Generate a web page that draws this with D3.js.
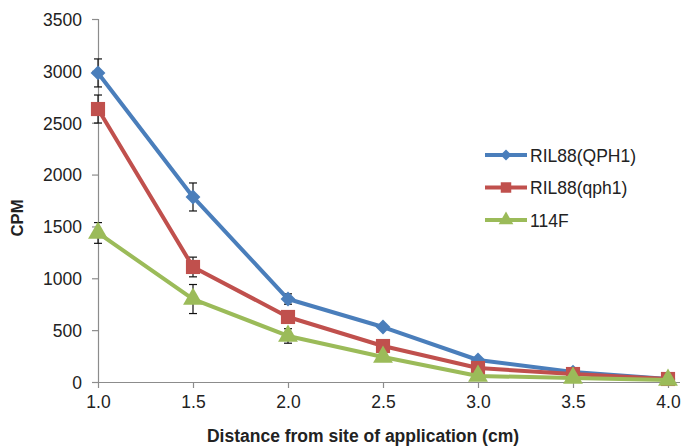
<!DOCTYPE html>
<html><head><meta charset="utf-8">
<script src="https://cdn.jsdelivr.net/npm/d3@7"></script>
<style>body{margin:0;background:#fff}svg{display:block}text{font-family:"Liberation Sans",Arial,sans-serif}</style>
</head><body>
<script>
const distances = [1.0, 1.5, 2.0, 2.5, 3.0, 3.5, 4.0];
const seriesNames = ["RIL88(QPH1)", "RIL88(qph1)", "114F"];
const valuesQPH1 = [2980, 1784, 800, 530, 212, 96, 30];
const valuesqph1 = [2632, 1109, 627, 347, 135, 77, 29];
const values114F = [1437, 800, 444, 241, 58, 39, 19];
const errorsQPH1 = [135, 135, 50, 20, 15, 10, 5];
const errorsqph1 = [135, 95, 40, 20, 15, 10, 5];
const errors114F = [100, 140, 70, 20, 15, 10, 5];
const yTicks = [0, 500, 1000, 1500, 2000, 2500, 3000, 3500];
const xTicks = [1.0, 1.5, 2.0, 2.5, 3.0, 3.5, 4.0];
const colors = ["#4A7EBB", "#C0504D", "#9BBB59"];
const shapes = [d3.symbolSquare, d3.symbolSquare, d3.symbolTriangle];
const rotations = [45, 0, 0];

const W = 682, H = 448;
const svg = d3.select("body").append("svg").attr("width", W).attr("height", H);
const x = d3.scaleLinear().domain([1, 4]).range([98, 668]);
const y = d3.scaleLinear().domain([0, 3500]).range([382, 19]);

const yAxis = svg.append("g").attr("transform", "translate(98,0)")
  .call(d3.axisLeft(y).tickValues(yTicks).tickSize(6).tickPadding(10).tickFormat(d3.format("d")));
const xAxis = svg.append("g").attr("transform", "translate(0,382)")
  .call(d3.axisBottom(x).tickValues(xTicks).tickSize(6).tickPadding(8).tickFormat(d3.format(".1f")));
[yAxis, xAxis].forEach(g => {
  g.selectAll("path,line").attr("stroke", "#8c8c8c").attr("stroke-width", 1.2);
  g.selectAll("text").attr("font-size", 17.5).attr("fill", "#222");
});
yAxis.selectAll("text").attr("dy", "0.36em");
xAxis.select("path").attr("d", "M98,0.5H680");

svg.append("text").attr("x", 363).attr("y", 442).attr("text-anchor", "middle")
  .attr("font-size", 17.5).attr("font-weight", "bold").attr("fill", "#222")
  .text("Distance from site of application (cm)");
svg.append("text").attr("transform", "translate(23,218) rotate(-90)").attr("text-anchor", "middle")
  .attr("font-size", 16.7).attr("font-weight", "bold").attr("fill", "#222").text("CPM");

const allVals = [valuesQPH1, valuesqph1, values114F];
const allErr = [errorsQPH1, errorsqph1, errors114F];
const line = d3.line().x(d => x(d[0])).y(d => y(d[1]));
const sizes = [110, 200, 170];

// error bars below markers
allVals.forEach((vals, i) => {
  const pts = distances.map((d, j) => [d, vals[j], allErr[i][j]]);
  const eb = svg.append("g").attr("stroke", "#111").attr("stroke-width", 1.2);
  pts.forEach(d => {
    const cx = x(d[0]), y1 = y(d[1] + d[2]), y2 = y(d[1] - d[2]);
    eb.append("line").attr("x1", cx).attr("x2", cx).attr("y1", y1).attr("y2", y2);
    eb.append("line").attr("x1", cx - 4).attr("x2", cx + 4).attr("y1", y1).attr("y2", y1);
    eb.append("line").attr("x1", cx - 4).attr("x2", cx + 4).attr("y1", y2).attr("y2", y2);
  });
});

allVals.forEach((vals, i) => {
  const pts = distances.map((d, j) => [d, vals[j]]);
  const g = svg.append("g");
  g.append("path").datum(pts).attr("d", line).attr("fill", "none")
    .attr("stroke", colors[i]).attr("stroke-width", 4).attr("stroke-linejoin", "round");
  g.selectAll("path.m").data(pts).enter().append("path").attr("class", "m")
    .attr("transform", d => `translate(${x(d[0])},${y(d[1])}) rotate(${rotations[i]})`)
    .attr("d", d3.symbol().type(shapes[i]).size(sizes[i])).attr("fill", colors[i]);
});

const leg = svg.append("g");
seriesNames.forEach((n, i) => {
  const yy = 155 + i * 32.5;
  leg.append("line").attr("x1", 485).attr("x2", 527).attr("y1", yy).attr("y2", yy)
    .attr("stroke", colors[i]).attr("stroke-width", 4);
  leg.append("path").attr("transform", `translate(506,${yy}) rotate(${rotations[i]})`)
    .attr("d", d3.symbol().type(shapes[i]).size(sizes[i] * 0.55)).attr("fill", colors[i]);
  leg.append("text").attr("x", 530).attr("y", yy + 6.5).attr("font-size", 17.5).attr("fill", "#222").text(n);
});
</script>
</body></html>
